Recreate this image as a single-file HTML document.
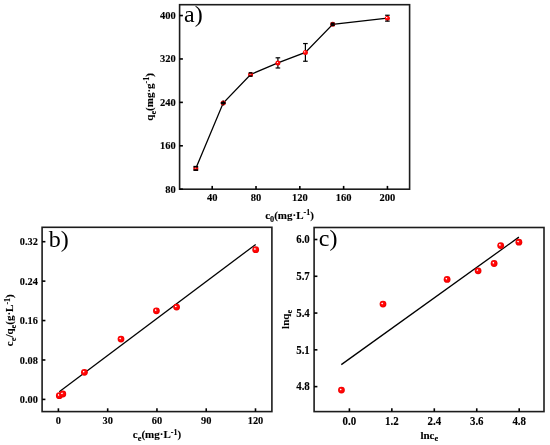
<!DOCTYPE html>
<html><head><meta charset="utf-8"><style>
html,body{margin:0;padding:0;background:#fff;}
body{width:550px;height:445px;overflow:hidden;}
svg{display:block;will-change:transform;}
text{font-family:"Liberation Serif",serif;}
.tk{font-size:10.9px;font-weight:bold;fill:#000;stroke:#000;stroke-width:0.12px;}
.tt{font-size:11px;font-weight:bold;fill:#000;stroke:#000;stroke-width:0.12px;}
.sub{font-size:8.3px;} .sup{font-size:8px;}
.pl{font-size:24px;fill:#000;}
</style></head><body>
<svg width="550" height="445" viewBox="0 0 550 445">
<defs>
<radialGradient id="ball" cx="0.5" cy="0.5" r="0.5" fx="0.35" fy="0.37">
<stop offset="0" stop-color="#fff"/>
<stop offset="0.1" stop-color="#fff"/>
<stop offset="0.34" stop-color="#ff1010"/>
<stop offset="0.75" stop-color="#ff0000"/>
<stop offset="1" stop-color="#e40000"/>
</radialGradient>
</defs>
<rect width="550" height="445" fill="#fff"/>
<rect x="179.6" y="4.7" width="230.00" height="184.50" fill="none" stroke="#1c1c1c" stroke-width="1.6"/>
<line x1="212.21" y1="189.2" x2="212.21" y2="185.89999999999998" stroke="#000" stroke-width="1.6"/>
<text transform="translate(212.21,201.30) scale(1,1.0)" text-anchor="middle" class="tk" style="font-size:10.5px">40</text>
<line x1="256.02" y1="189.2" x2="256.02" y2="185.89999999999998" stroke="#000" stroke-width="1.6"/>
<text transform="translate(256.02,201.30) scale(1,1.0)" text-anchor="middle" class="tk" style="font-size:10.5px">80</text>
<line x1="299.82" y1="189.2" x2="299.82" y2="185.89999999999998" stroke="#000" stroke-width="1.6"/>
<text transform="translate(299.82,201.30) scale(1,1.0)" text-anchor="middle" class="tk" style="font-size:10.5px">120</text>
<line x1="343.63" y1="189.2" x2="343.63" y2="185.89999999999998" stroke="#000" stroke-width="1.6"/>
<text transform="translate(343.63,201.30) scale(1,1.0)" text-anchor="middle" class="tk" style="font-size:10.5px">160</text>
<line x1="387.44" y1="189.2" x2="387.44" y2="185.89999999999998" stroke="#000" stroke-width="1.6"/>
<text transform="translate(387.44,201.30) scale(1,1.0)" text-anchor="middle" class="tk" style="font-size:10.5px">200</text>
<line x1="179.6" y1="189.2" x2="182.9" y2="189.2" stroke="#000" stroke-width="1.6"/>
<text transform="translate(175.70,192.55) scale(1,1.0)" text-anchor="end" class="tk" style="font-size:10.5px">80</text>
<line x1="179.6" y1="145.79" x2="182.9" y2="145.79" stroke="#000" stroke-width="1.6"/>
<text transform="translate(175.70,149.14) scale(1,1.0)" text-anchor="end" class="tk" style="font-size:10.5px">160</text>
<line x1="179.6" y1="102.38" x2="182.9" y2="102.38" stroke="#000" stroke-width="1.6"/>
<text transform="translate(175.70,105.73) scale(1,1.0)" text-anchor="end" class="tk" style="font-size:10.5px">240</text>
<line x1="179.6" y1="58.96" x2="182.9" y2="58.96" stroke="#000" stroke-width="1.6"/>
<text transform="translate(175.70,62.31) scale(1,1.0)" text-anchor="end" class="tk" style="font-size:10.5px">320</text>
<line x1="179.6" y1="15.55" x2="182.9" y2="15.55" stroke="#000" stroke-width="1.6"/>
<text transform="translate(175.70,18.90) scale(1,1.0)" text-anchor="end" class="tk" style="font-size:10.5px">400</text>
<polyline fill="none" stroke="#000" stroke-width="1.3" points="195.8,168.4 223.2,103.0 250.6,74.5 277.9,62.9 305.4,52.4 332.7,24.3 387.4,18.2"/>
<line x1="195.8" y1="166.70000000000002" x2="195.8" y2="170.1" stroke="#000" stroke-width="1.2"/>
<line x1="250.6" y1="72.9" x2="250.6" y2="76.1" stroke="#000" stroke-width="1.2"/>
<line x1="277.9" y1="57.8" x2="277.9" y2="68.0" stroke="#000" stroke-width="1.2"/>
<line x1="305.4" y1="43.55" x2="305.4" y2="61.25" stroke="#000" stroke-width="1.2"/>
<line x1="387.4" y1="15.25" x2="387.4" y2="21.15" stroke="#000" stroke-width="1.2"/>
<circle cx="195.8" cy="168.4" r="2.5" fill="url(#ball)"/>
<circle cx="223.2" cy="103.0" r="2.5" fill="url(#ball)"/>
<circle cx="250.6" cy="74.5" r="2.5" fill="url(#ball)"/>
<circle cx="277.9" cy="62.9" r="2.5" fill="url(#ball)"/>
<circle cx="305.4" cy="52.4" r="2.5" fill="url(#ball)"/>
<circle cx="332.7" cy="24.3" r="2.5" fill="url(#ball)"/>
<circle cx="387.4" cy="18.2" r="2.5" fill="url(#ball)"/>
<line x1="193.4" y1="166.70000000000002" x2="198.20000000000002" y2="166.70000000000002" stroke="#000" stroke-width="1.7"/>
<line x1="193.4" y1="170.1" x2="198.20000000000002" y2="170.1" stroke="#000" stroke-width="1.7"/>
<line x1="220.79999999999998" y1="103.0" x2="225.6" y2="103.0" stroke="#000" stroke-width="2.2"/>
<line x1="223.2" y1="100.5" x2="223.2" y2="105.5" stroke="#000" stroke-width="1.2"/>
<line x1="248.7" y1="72.9" x2="252.5" y2="72.9" stroke="#000" stroke-width="1.5"/>
<line x1="248.7" y1="76.1" x2="252.5" y2="76.1" stroke="#000" stroke-width="1.5"/>
<line x1="275.59999999999997" y1="57.8" x2="280.2" y2="57.8" stroke="#000" stroke-width="1.2"/>
<line x1="275.59999999999997" y1="68.0" x2="280.2" y2="68.0" stroke="#000" stroke-width="1.2"/>
<line x1="303.09999999999997" y1="43.55" x2="307.7" y2="43.55" stroke="#000" stroke-width="1.2"/>
<line x1="303.09999999999997" y1="61.25" x2="307.7" y2="61.25" stroke="#000" stroke-width="1.2"/>
<line x1="330.7" y1="23.5" x2="334.7" y2="23.5" stroke="#000" stroke-width="2.0"/>
<line x1="330.7" y1="25.1" x2="334.7" y2="25.1" stroke="#000" stroke-width="2.0"/>
<line x1="385.09999999999997" y1="15.25" x2="389.7" y2="15.25" stroke="#000" stroke-width="1.2"/>
<line x1="385.09999999999997" y1="21.15" x2="389.7" y2="21.15" stroke="#000" stroke-width="1.2"/>
<text x="184" y="21.8" class="pl">a)</text>
<text x="289.5" y="218.6" text-anchor="middle" class="tt">c<tspan class="sub" dy="2.9">0</tspan><tspan dy="-2.9">(mg·L</tspan><tspan class="sup" dy="-3.6">-1</tspan><tspan dy="3.6">)</tspan></text>
<text transform="translate(153.0,96.9) rotate(-90)" text-anchor="middle" class="tt">q<tspan class="sub" dy="2.9">e</tspan><tspan dy="-2.9">(mg·g</tspan><tspan class="sup" dy="-3.6">-1</tspan><tspan dy="3.6">)</tspan></text>
<rect x="42.1" y="227.3" width="229.80" height="184.30" fill="none" stroke="#1c1c1c" stroke-width="1.6"/>
<line x1="58.4" y1="411.6" x2="58.4" y2="408.3" stroke="#000" stroke-width="1.6"/>
<text transform="translate(58.40,424.00) scale(1,1.0)" text-anchor="middle" class="tk" style="font-size:10.4px">0</text>
<line x1="107.68" y1="411.6" x2="107.68" y2="408.3" stroke="#000" stroke-width="1.6"/>
<text transform="translate(107.68,424.00) scale(1,1.0)" text-anchor="middle" class="tk" style="font-size:10.4px">30</text>
<line x1="156.95" y1="411.6" x2="156.95" y2="408.3" stroke="#000" stroke-width="1.6"/>
<text transform="translate(156.95,424.00) scale(1,1.0)" text-anchor="middle" class="tk" style="font-size:10.4px">60</text>
<line x1="206.23" y1="411.6" x2="206.23" y2="408.3" stroke="#000" stroke-width="1.6"/>
<text transform="translate(206.23,424.00) scale(1,1.0)" text-anchor="middle" class="tk" style="font-size:10.4px">90</text>
<line x1="255.5" y1="411.6" x2="255.5" y2="408.3" stroke="#000" stroke-width="1.6"/>
<text transform="translate(255.50,424.00) scale(1,1.0)" text-anchor="middle" class="tk" style="font-size:10.4px">120</text>
<line x1="42.1" y1="399.4" x2="45.4" y2="399.4" stroke="#000" stroke-width="1.6"/>
<text transform="translate(37.80,402.98) scale(1,1.0)" text-anchor="end" class="tk" style="font-size:10.3px">0.00</text>
<line x1="42.1" y1="359.98" x2="45.4" y2="359.98" stroke="#000" stroke-width="1.6"/>
<text transform="translate(37.80,363.56) scale(1,1.0)" text-anchor="end" class="tk" style="font-size:10.3px">0.08</text>
<line x1="42.1" y1="320.55" x2="45.4" y2="320.55" stroke="#000" stroke-width="1.6"/>
<text transform="translate(37.80,324.13) scale(1,1.0)" text-anchor="end" class="tk" style="font-size:10.3px">0.16</text>
<line x1="42.1" y1="281.13" x2="45.4" y2="281.13" stroke="#000" stroke-width="1.6"/>
<text transform="translate(37.80,284.71) scale(1,1.0)" text-anchor="end" class="tk" style="font-size:10.3px">0.24</text>
<line x1="42.1" y1="241.7" x2="45.4" y2="241.7" stroke="#000" stroke-width="1.6"/>
<text transform="translate(37.80,245.28) scale(1,1.0)" text-anchor="end" class="tk" style="font-size:10.3px">0.32</text>
<line x1="59.3" y1="391.8" x2="255.7" y2="244.4" stroke="#000" stroke-width="1.3"/>
<circle cx="59.3" cy="395.7" r="3.4" fill="url(#ball)"/>
<circle cx="62.8" cy="394.0" r="3.4" fill="url(#ball)"/>
<circle cx="84.4" cy="372.3" r="3.4" fill="url(#ball)"/>
<circle cx="121" cy="339.1" r="3.4" fill="url(#ball)"/>
<circle cx="156.4" cy="310.8" r="3.4" fill="url(#ball)"/>
<circle cx="176.6" cy="307.1" r="3.4" fill="url(#ball)"/>
<circle cx="255.7" cy="249.7" r="3.4" fill="url(#ball)"/>
<text x="48.8" y="247.3" class="pl">b)</text>
<text x="157" y="438.4" text-anchor="middle" class="tt">c<tspan class="sub" dy="2.9">e</tspan><tspan dy="-2.9">(mg·L</tspan><tspan class="sup" dy="-3.6">-1</tspan><tspan dy="3.6">)</tspan></text>
<text transform="translate(13.4,320.2) rotate(-90)" text-anchor="middle" class="tt">c<tspan class="sub" dy="2.9">e</tspan><tspan dy="-2.9">/q</tspan><tspan class="sub" dy="2.9">e</tspan><tspan dy="-2.9">(g·L</tspan><tspan class="sup" dy="-3.6">-1</tspan><tspan dy="3.6">)</tspan></text>
<rect x="314.1" y="227.5" width="229.90" height="184.10" fill="none" stroke="#1c1c1c" stroke-width="1.6"/>
<line x1="349.4" y1="411.6" x2="349.4" y2="408.3" stroke="#000" stroke-width="1.6"/>
<text transform="translate(349.40,424.70) scale(1,1.08)" text-anchor="middle" class="tk" style="font-size:10.9px">0.0</text>
<line x1="391.85" y1="411.6" x2="391.85" y2="408.3" stroke="#000" stroke-width="1.6"/>
<text transform="translate(391.85,424.70) scale(1,1.08)" text-anchor="middle" class="tk" style="font-size:10.9px">1.2</text>
<line x1="434.3" y1="411.6" x2="434.3" y2="408.3" stroke="#000" stroke-width="1.6"/>
<text transform="translate(434.30,424.70) scale(1,1.08)" text-anchor="middle" class="tk" style="font-size:10.9px">2.4</text>
<line x1="476.75" y1="411.6" x2="476.75" y2="408.3" stroke="#000" stroke-width="1.6"/>
<text transform="translate(476.75,424.70) scale(1,1.08)" text-anchor="middle" class="tk" style="font-size:10.9px">3.6</text>
<line x1="519.2" y1="411.6" x2="519.2" y2="408.3" stroke="#000" stroke-width="1.6"/>
<text transform="translate(519.20,424.70) scale(1,1.08)" text-anchor="middle" class="tk" style="font-size:10.9px">4.8</text>
<line x1="314.1" y1="386.62" x2="317.40000000000003" y2="386.62" stroke="#000" stroke-width="1.6"/>
<text transform="translate(309.80,390.30) scale(1,1.08)" text-anchor="end" class="tk" style="font-size:10.9px">4.8</text>
<line x1="314.1" y1="349.84" x2="317.40000000000003" y2="349.84" stroke="#000" stroke-width="1.6"/>
<text transform="translate(309.80,353.52) scale(1,1.08)" text-anchor="end" class="tk" style="font-size:10.9px">5.1</text>
<line x1="314.1" y1="313.06" x2="317.40000000000003" y2="313.06" stroke="#000" stroke-width="1.6"/>
<text transform="translate(309.80,316.74) scale(1,1.08)" text-anchor="end" class="tk" style="font-size:10.9px">5.4</text>
<line x1="314.1" y1="276.28" x2="317.40000000000003" y2="276.28" stroke="#000" stroke-width="1.6"/>
<text transform="translate(309.80,279.96) scale(1,1.08)" text-anchor="end" class="tk" style="font-size:10.9px">5.7</text>
<line x1="314.1" y1="239.5" x2="317.40000000000003" y2="239.5" stroke="#000" stroke-width="1.6"/>
<text transform="translate(309.80,243.18) scale(1,1.08)" text-anchor="end" class="tk" style="font-size:10.9px">6.0</text>
<line x1="341.3" y1="364.6" x2="518.9" y2="237.1" stroke="#000" stroke-width="1.3"/>
<circle cx="341.45" cy="390.1" r="3.4" fill="url(#ball)"/>
<circle cx="383" cy="304.1" r="3.4" fill="url(#ball)"/>
<circle cx="447.1" cy="279.4" r="3.4" fill="url(#ball)"/>
<circle cx="478.1" cy="270.8" r="3.4" fill="url(#ball)"/>
<circle cx="494.1" cy="263.5" r="3.4" fill="url(#ball)"/>
<circle cx="500.7" cy="245.6" r="3.4" fill="url(#ball)"/>
<circle cx="518.9" cy="242.2" r="3.4" fill="url(#ball)"/>
<text x="318.8" y="245.7" class="pl">c)</text>
<text transform="translate(429.3,438.5)" text-anchor="middle" class="tt" style="font-size:11px">lnc<tspan class="sub" dy="2.8">e</tspan></text>
<text transform="translate(289.1,319.4) rotate(-90)" text-anchor="middle" class="tt">lnq<tspan class="sub" dy="2.9">e</tspan></text>
</svg>
</body></html>
